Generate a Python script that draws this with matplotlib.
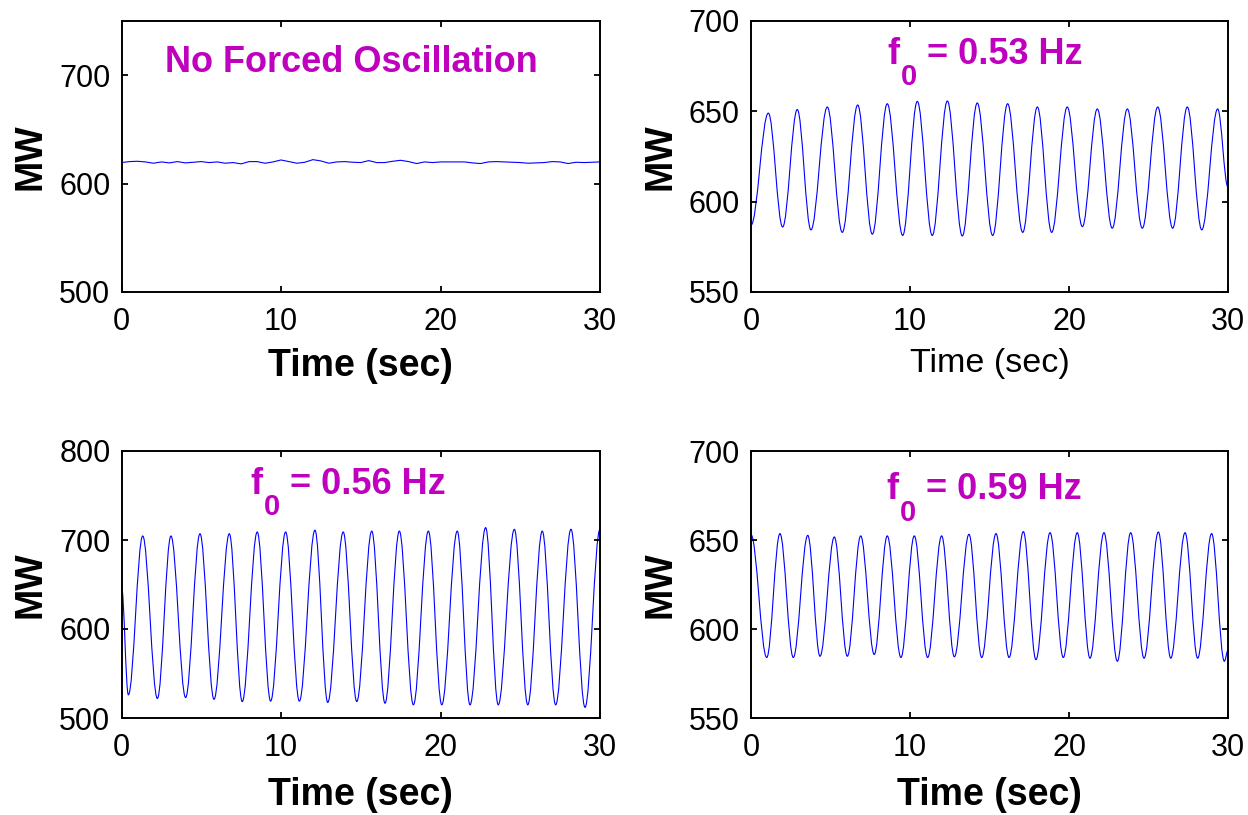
import matplotlib
matplotlib.use("Agg")
import matplotlib.pyplot as plt
import numpy as np
from matplotlib.path import Path
from matplotlib.patches import PathPatch

NARROW = ["Liberation Sans Narrow", "Liberation Sans", "DejaVu Sans"]
plt.rcParams["font.family"] = NARROW
plt.rcParams["font.size"] = 22
MAGENTA = (0.75, 0.0, 0.75)

# --- no forced oscillation: ambient MW sampled every 0.5 s ---
base_t = np.linspace(0, 30, 61)
base_mw = [619.4, 620.3, 620.6, 620.0, 618.8, 620.0, 619.1, 620.3, 619.1, 619.7,
           620.3, 619.4, 620.0, 618.8, 619.4, 618.2, 620.3, 620.3, 618.8, 620.0,
           621.8, 620.3, 618.8, 619.7, 622.1, 620.9, 618.8, 620.0, 620.3, 619.7,
           619.4, 621.2, 619.4, 619.4, 620.6, 621.5, 620.3, 618.5, 620.0, 619.4,
           620.0, 620.0, 620.0, 620.0, 619.1, 618.5, 620.0, 620.3, 620.0, 619.7,
           619.4, 618.8, 619.1, 619.4, 620.3, 620.0, 618.5, 619.7, 619.4, 619.7,
           620.0]

# --- forced oscillations: swing turning points (time, MW) ---
t053 = [0, 1.09, 1.99, 2.91, 3.77, 4.80, 5.74, 6.71, 7.63, 8.57, 9.54, 10.46,
        11.40, 12.35, 13.29, 14.23, 15.20, 16.14, 17.09, 18.01, 18.91, 19.89,
        20.84, 21.78, 22.72, 23.67, 24.61, 25.58, 26.52, 27.44, 28.35, 29.35, 30]
mw053 = [587, 649, 586, 651, 584.4, 652.4, 583, 653.5, 582, 654.2, 581.3, 655.5,
         581.3, 655.7, 581, 654.6, 581.3, 654.2, 583, 652.4, 583, 652.4,
         586.2, 651.3, 585.3, 651.3, 585.3, 652.4, 585.3, 652.4, 584.4, 651.3, 608]

t056 = [0, 0.43, 1.33, 2.25, 3.10, 4.02, 4.92, 5.80, 6.76, 7.57, 8.51, 9.35,
        10.29, 11.15, 12.13, 12.93, 13.90, 14.75, 15.69, 16.52, 17.42, 18.30,
        19.24, 20.08, 21.05, 21.85, 22.83, 23.62, 24.63, 25.47, 26.38, 27.22,
        28.18, 29.06, 30]
mw056 = [648, 526, 704.5, 522, 704.5, 523, 707, 521, 707, 518.5, 709, 519,
         709, 519, 711, 517.5, 709, 518.5, 710, 516.6, 710, 514.8,
         710, 514.8, 710, 514.8, 713.9, 514.8, 712, 514.8, 710, 514.8,
         712, 512, 712]

t059 = [0, 0.99, 1.82, 2.66, 3.57, 4.34, 5.24, 6.06, 6.90, 7.75, 8.57, 9.43,
        10.27, 11.11, 11.99, 12.79, 13.71, 14.51, 15.41, 16.23, 17.13, 17.92,
        18.81, 19.64, 20.52, 21.32, 22.20, 23.04, 23.88, 24.72, 25.62, 26.40,
        27.30, 28.09, 28.97, 29.77, 30]
mw059 = [653, 584, 653.6, 584, 652.6, 584.7, 651.7, 584.7, 652.3, 585.7, 652.3, 584,
         652.3, 584, 652.3, 584.4, 653.2, 584, 653.6, 584, 654.7, 582.8,
         654.1, 584, 654.1, 583.6, 654.1, 581.9, 654.1, 583.6, 654.5, 583.6,
         654.1, 583.6, 653.6, 581.9, 588]


def swing(ax, t, mw):
    # half-cosine-like cubic between successive turning points
    verts, codes = [(t[0], mw[0])], [Path.MOVETO]
    for t0, y0, t1, y1 in zip(t[:-1], mw[:-1], t[1:], mw[1:]):
        h = 0.364 * (t1 - t0)
        verts += [(t0 + h, y0), (t1 - h, y1), (t1, y1)]
        codes += [Path.CURVE4] * 3
    ax.add_patch(PathPatch(Path(verts, codes), fill=False, edgecolor="blue", lw=0.8))


def style(ax, ylim, yticks, bold_xlabel, xlab_y):
    ax.set_xlim(0, 30)
    ax.set_ylim(*ylim)
    ax.set_xticks([0, 10, 20, 30])
    ax.set_yticks(yticks)
    ax.tick_params(direction="in", top=True, right=True, length=4, width=1.3,
                   labelsize=22)
    ax.tick_params(axis="x", pad=11)
    ax.tick_params(axis="y", pad=8)
    for s in ax.spines.values():
        s.set_linewidth(1.4)
    ax.set_ylabel("MW", fontsize=27, fontweight="bold", family=["Liberation Sans", "DejaVu Sans"])
    ax.yaxis.set_label_coords(-0.152, 0.5)
    if bold_xlabel:
        ax.set_xlabel("Time (sec)", fontsize=27, fontweight="bold")
    else:
        ax.set_xlabel("Time (sec)", fontsize=24.5)
    ax.xaxis.set_label_coords(0.5, xlab_y)
    ax.xaxis.label.set_va("top")


def f0_title(ax, x, y, freq):
    f = ax.text(x, y, "f", transform=ax.transAxes, fontsize=26, fontweight="bold",
                color=MAGENTA, va="baseline")
    sub = ax.annotate("0", xy=(1, 0), xycoords=f, xytext=(1, 6), textcoords="offset points",
                      fontsize=21, fontweight="bold", color=MAGENTA, va="top")
    ax.annotate(f" = {freq} Hz", xy=(1, 0), xycoords=(sub, f), fontsize=26,
                fontweight="bold", color=MAGENTA, va="bottom")


fig = plt.figure(figsize=(12.48, 8.15), dpi=100)
W, H = 1248, 815
ax_tl = fig.add_axes([121.5 / W, 1 - 292 / H, 478.5 / W, 271 / H])
ax_tr = fig.add_axes([751 / W, 1 - 292 / H, 477 / W, 271 / H])
ax_bl = fig.add_axes([121.5 / W, 1 - 718 / H, 478.5 / W, 267 / H])
ax_br = fig.add_axes([751 / W, 1 - 718 / H, 477 / W, 267 / H])

ax_tl.plot(base_t, base_mw, color="blue", lw=0.8)
swing(ax_tr, t053, mw053)
swing(ax_bl, t056, mw056)
swing(ax_br, t059, mw059)

style(ax_tl, (500, 750), [500, 600, 700], True, -0.207)
style(ax_tr, (550, 700), [550, 600, 650, 700], False, -0.207)
style(ax_bl, (500, 800), [500, 600, 700, 800], True, -0.221)
style(ax_br, (550, 700), [550, 600, 650, 700], True, -0.221)

ax_tl.text(0.09, 0.81, "No Forced Oscillation", transform=ax_tl.transAxes,
           fontsize=26, fontweight="bold", color=MAGENTA, va="baseline")
f0_title(ax_tr, 0.285, 0.842, "0.53")
f0_title(ax_bl, 0.27, 0.84, "0.56")
f0_title(ax_br, 0.283, 0.82, "0.59")

fig.savefig("out.png", dpi=100)
